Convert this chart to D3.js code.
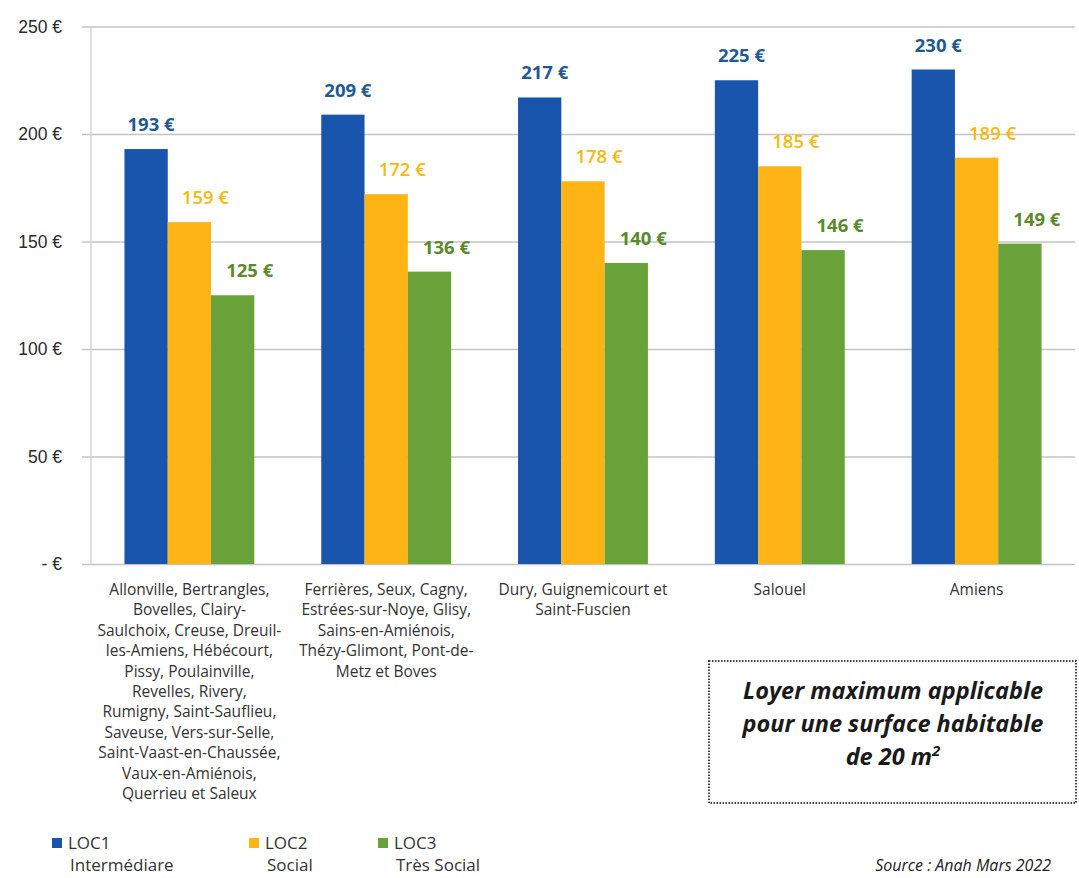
<!DOCTYPE html>
<html>
<head>
<meta charset="utf-8">
<script src="https://cdn.jsdelivr.net/npm/d3@7"></script>
<style>
  body { margin: 0; background: #fff; }
  svg { font-family: 'Open Sans', 'Noto Sans', sans-serif; }
</style>
</head>
<body>
<script>
// data
let categories = [
  ['Allonville, Bertrangles,', 'Bovelles, Clairy-', 'Saulchoix, Creuse, Dreuil-', 'les-Amiens, Hébécourt,', 'Pissy, Poulainville,', 'Revelles, Rivery,', 'Rumigny, Saint-Sauflieu,', 'Saveuse, Vers-sur-Selle,', 'Saint-Vaast-en-Chaussée,', 'Vaux-en-Amiénois,', 'Querrieu et Saleux'],
  ['Ferrières, Seux, Cagny,', 'Estrées-sur-Noye, Glisy,', 'Sains-en-Amiénois,', 'Thézy-Glimont, Pont-de-', 'Metz et Boves'],
  ['Dury, Guignemicourt et', 'Saint-Fuscien'],
  ['Salouel'],
  ['Amiens']
]
let loc1 = [193, 209, 217, 225, 230]
let loc2 = [159, 172, 178, 185, 189]
let loc3 = [125, 136, 140, 146, 149]
let seriesNames = ['LOC1', 'LOC2', 'LOC3']
let seriesSub = ['Intermédiare', 'Social', 'Très Social']
let yTicks = [0, 50, 100, 150, 200, 250]

let width = 1079
let height = 878
let plotLeft = 91
let plotRight = 1075
let plotTop = 26.5
let plotBottom = 564

let barColors = ['#1a55ad', '#fdb414', '#6aa23a']
let labelColors = ['#1f5a94', '#f7b90c', '#5b8a2c']
let labelShift = [5, 16, 17]

let svg = d3.select('body').append('svg').attr('width', width).attr('height', height)

let xScale = d3.scaleBand().domain(d3.range(categories.length)).range([plotLeft, plotRight]).paddingInner(0.34).paddingOuter(0.17)
let xSub = d3.scaleBand().domain([0, 1, 2]).range([0, xScale.bandwidth()])
let yScale = d3.scaleLinear().domain([0, 250]).range([plotBottom, plotTop])

// grid + y axis
let yAxis = d3.axisLeft(yScale).tickValues(yTicks)
  .tickSize(-(plotRight - 82))
  .tickFormat(d => d == 0 ? '- €' : d + ' €')

svg.append('g')
   .attr('transform', 'translate(82,0)')
   .call(yAxis)
   .call(g => g.select('.domain').remove())
   .call(g => g.selectAll('line').attr('stroke', '#c4c4c4').attr('stroke-width', 1.3))
   .call(g => g.selectAll('text').attr('x', -20).attr('font-size', 17.5).attr('fill', '#2b2b2b'))

svg.append('line').attr('x1', plotLeft).attr('x2', plotLeft).attr('y1', plotTop).attr('y2', plotBottom)
   .attr('stroke', '#d0d0d0').attr('stroke-width', 1.3)

let allSeries = [loc1, loc2, loc3]

allSeries.forEach((vals, s) => {
  svg.append('g').selectAll('rect')
    .data(vals)
    .enter()
    .append('rect')
    .attr('x', (d, i) => xScale(i) + xSub(s))
    .attr('width', xSub.bandwidth())
    .attr('y', d => yScale(d))
    .attr('height', d => yScale(0) - yScale(d))
    .attr('fill', barColors[s])

  svg.append('g').selectAll('text')
    .data(vals)
    .enter()
    .append('text')
    .attr('x', (d, i) => xScale(i) + xSub(s) + xSub.bandwidth() / 2 + labelShift[s])
    .attr('y', d => yScale(d) - 18)
    .attr('text-anchor', 'middle')
    .attr('font-size', 18.5)
    .attr('font-weight', s == 1 ? 600 : 'bold')
    .attr('fill', labelColors[s])
    .text(d => d + ' €')
})

// category labels
categories.forEach((lines, i) => {
  let t = svg.append('text')
    .attr('x', xScale(i) + xScale.bandwidth() / 2)
    .attr('y', 595)
    .attr('text-anchor', 'middle')
    .attr('font-size', 15.5)
    .attr('fill', '#333')
  lines.forEach((ln, k) => {
    t.append('tspan').attr('x', xScale(i) + xScale.bandwidth() / 2).attr('dy', k == 0 ? 0 : 20.4).text(ln)
  })
})

// legend
let legendX = [52, 249, 378]
seriesNames.forEach((n, s) => {
  svg.append('rect').attr('x', legendX[s]).attr('y', 838).attr('width', 10).attr('height', 10).attr('fill', barColors[s])
  svg.append('text').attr('x', legendX[s] + 16).attr('y', 849).attr('font-size', 17).attr('fill', '#333').text(n)
  svg.append('text').attr('x', legendX[s] + 18).attr('y', 871).attr('font-size', 17).attr('fill', '#333').text(seriesSub[s])
})

// note box
svg.append('rect').attr('x', 709).attr('y', 661).attr('width', 367).attr('height', 142)
   .attr('fill', 'none').attr('stroke', '#444').attr('stroke-width', 2).attr('stroke-dasharray', '1.5,1.5')

let boxLines = ['Loyer maximum applicable', 'pour une surface habitable']
boxLines.forEach((ln, k) => {
  svg.append('text').attr('x', 893).attr('y', 699 + k * 33).attr('text-anchor', 'middle')
     .attr('font-size', 23.5).attr('font-weight', 'bold').attr('font-style', 'italic').attr('fill', '#1a1a1a')
     .text(ln)
})
let last = svg.append('text').attr('x', 893).attr('y', 765).attr('text-anchor', 'middle')
   .attr('font-size', 23.5).attr('font-weight', 'bold').attr('font-style', 'italic').attr('fill', '#1a1a1a')
last.append('tspan').text('de 20 m')
last.append('tspan').attr('dy', -9).attr('font-size', 15).text('2')

svg.append('text').attr('x', 1051).attr('y', 871).attr('text-anchor', 'end')
   .attr('font-size', 16).attr('font-style', 'italic').attr('fill', '#222')
   .text('Source : Anah Mars 2022')
</script>
</body>
</html>
